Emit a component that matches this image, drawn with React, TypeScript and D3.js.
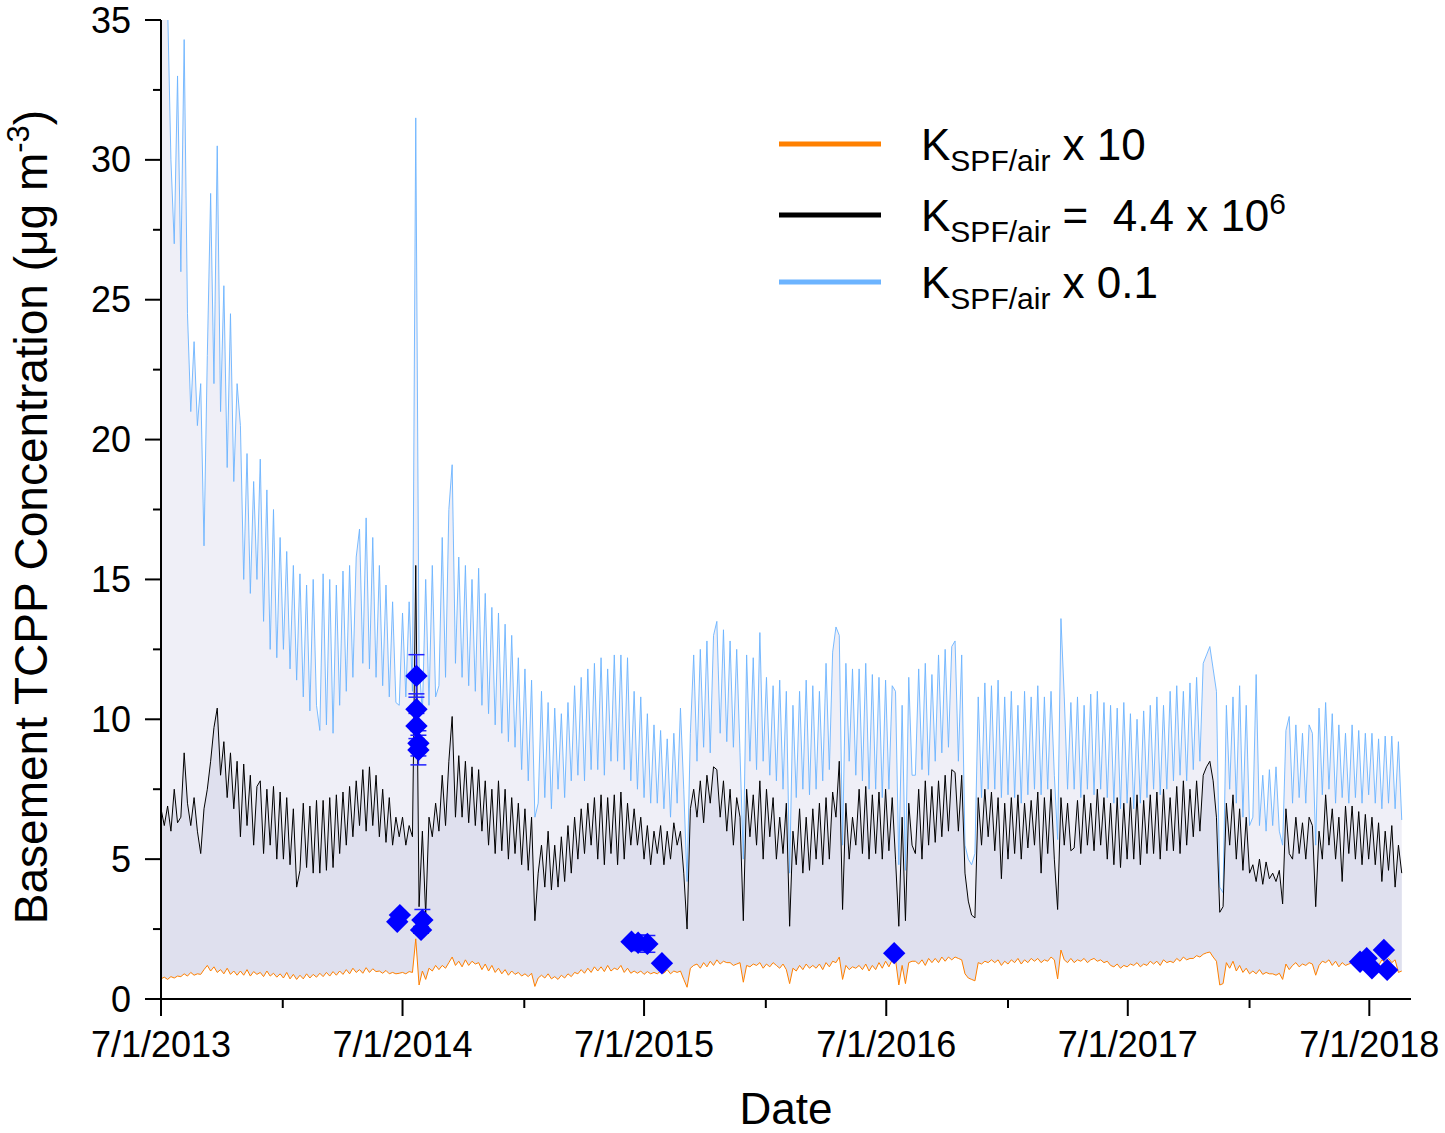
import React from "react";
import * as d3 from "d3";

// daily model output, every 5 days from 7/1/2013
const START = "2013-07-01";
const END = "2018-09-02";
const STEP_DAYS = 5;

// K_SPF/air x 10 (orange)
const kTimes10: number[] = [
  0.72, 0.78, 0.7, 0.8, 0.75, 0.82, 0.8, 0.9, 0.82, 0.95, 0.85, 0.9,
  0.88, 1.05, 1.2, 1.0, 1.15, 0.95, 1.05, 0.9, 1.1, 0.88, 1.0, 0.85,
  1.0, 0.85, 1.05, 0.82, 0.98, 0.88, 0.95, 0.8, 1.0, 0.82, 0.92, 0.78,
  0.9, 0.75, 0.95, 0.72, 0.88, 0.7, 0.85, 0.72, 0.9, 0.75, 0.88, 0.78,
  0.92, 0.8, 0.95, 0.82, 0.98, 0.85, 1.0, 0.88, 1.05, 0.9, 1.1, 0.95,
  1.05, 0.92, 1.12, 0.95, 1.08, 0.98, 1.0, 0.92, 1.02, 0.9, 0.95, 0.9,
  0.92, 0.95, 0.9, 0.98, 0.95, 2.15, 0.5, 1.0, 0.7, 1.1, 1.0, 1.2,
  1.05, 1.2, 1.1, 1.3, 1.5, 1.2, 1.35, 1.15, 1.4, 1.2, 1.35, 1.25,
  1.3, 1.05, 1.25, 1.0, 1.2, 0.95, 1.1, 0.9, 1.05, 0.85, 1.0, 0.88,
  0.95, 0.82, 0.9, 0.8, 0.92, 0.45, 0.75, 0.85, 0.75, 0.9, 0.72, 0.8,
  0.7, 0.85, 0.75, 0.9, 0.8, 0.95, 0.9, 1.05, 0.92, 1.1, 0.95, 1.15,
  1.0, 1.15, 0.98, 1.2, 1.0, 1.1, 1.05, 1.2, 0.95, 1.1, 0.92, 1.0,
  0.92, 1.0, 0.88, 0.98, 0.9, 0.95, 0.9, 1.0, 0.92, 1.05, 0.9, 1.0,
  0.95, 1.0, 0.7, 0.42, 1.1, 1.2, 1.25, 1.1, 1.3, 1.15, 1.35, 1.2,
  1.4, 1.25, 1.35, 1.3, 1.3, 1.2, 1.25, 1.3, 0.6, 1.2, 1.15, 1.25,
  1.2, 1.3, 1.1, 1.25, 1.15, 1.3, 1.2, 1.1, 1.25, 1.05, 0.55, 1.1,
  1.0, 1.2, 1.05, 1.25, 1.1, 1.2, 1.1, 1.25, 1.05, 1.3, 1.15, 1.35,
  1.3, 1.5, 0.7, 1.2, 1.05, 1.15, 1.1, 1.2, 1.05, 1.25, 1.0, 1.2,
  1.05, 1.3, 1.1, 1.35, 1.15, 1.4, 1.4, 0.5, 1.2, 0.55, 1.3, 1.35,
  1.35, 1.25, 1.4, 1.2, 1.45, 1.3, 1.45, 1.3, 1.5, 1.35, 1.5, 1.4,
  1.5, 1.45, 1.4, 0.9, 0.75, 0.7, 0.65, 1.3, 1.25, 1.35, 1.3, 1.4,
  1.3, 1.4, 1.2, 1.35, 1.25, 1.4, 1.3, 1.45, 1.25, 1.4, 1.3, 1.45,
  1.35, 1.45, 1.3, 1.4, 1.35, 1.5, 1.4, 0.72, 1.75, 1.4, 1.3, 1.45,
  1.3, 1.4, 1.35, 1.45, 1.3, 1.4, 1.45, 1.35, 1.4, 1.3, 1.35, 1.2,
  1.15, 1.25, 1.1, 1.2, 1.15, 1.25, 1.2, 1.3, 1.15, 1.25, 1.2, 1.35,
  1.25, 1.35, 1.2, 1.4, 1.3, 1.35, 1.3, 1.45, 1.35, 1.5, 1.4, 1.45,
  1.45, 1.55, 1.5, 1.6, 1.65, 1.68, 1.5, 1.35, 0.5, 0.55, 1.3, 1.1,
  1.35, 1.0, 1.2, 0.95, 1.1, 0.9, 1.0, 0.9, 1.05, 0.88, 0.95, 0.9,
  0.9, 0.85, 0.92, 0.7, 1.25, 1.05, 1.2, 1.3, 1.15, 1.25, 1.2, 1.3,
  1.25, 0.85, 1.2, 1.35, 1.3, 1.4, 1.2, 1.35, 1.15, 1.3, 1.2, 1.25,
  1.3, 1.4, 1.25, 1.35, 1.2, 1.3, 1.25, 1.35, 1.2, 1.4, 1.3, 1.45,
  1.3, 1.4, 0.95, 1.0,
];

// K_SPF/air = 4.4 x 10^6 (black)
const kBase: number[] = [
  6.8, 6.2, 6.9, 6.0, 7.5, 6.3, 6.5, 8.8, 7.0, 6.2, 7.2, 6.0,
  5.2, 6.8, 7.5, 8.5, 9.7, 10.4, 8.0, 9.2, 7.2, 8.8, 6.8, 8.5,
  5.8, 8.4, 6.2, 8.0, 5.5, 7.6, 7.8, 5.2, 7.5, 5.5, 7.6, 5.0,
  7.4, 5.0, 7.2, 4.8, 6.8, 4.0, 4.6, 7.0, 4.7, 6.9, 4.5, 7.1,
  4.5, 7.1, 4.6, 7.2, 4.7, 7.3, 5.2, 7.4, 5.5, 7.6, 5.8, 7.8,
  6.2, 8.2, 6.0, 8.3, 6.2, 8.0, 5.8, 7.5, 5.6, 7.2, 5.5, 6.5,
  5.8, 6.5, 5.5, 6.2, 5.8, 15.5, 3.3, 6.0, 3.0, 6.5, 5.8, 7.0,
  6.0, 8.0, 6.2, 8.5, 10.1, 6.5, 8.7, 6.5, 8.5, 6.3, 8.3, 6.2,
  8.2, 6.0, 7.8, 5.5, 7.5, 5.2, 7.8, 5.3, 7.5, 5.0, 7.2, 5.2,
  7.0, 4.8, 6.8, 4.6, 6.5, 2.8, 4.5, 5.5, 4.0, 6.0, 3.9, 5.5,
  4.0, 5.8, 4.2, 6.2, 4.5, 6.5, 5.0, 6.8, 5.2, 7.0, 5.5, 7.2,
  5.0, 7.3, 4.8, 7.2, 5.2, 7.3, 4.8, 7.4, 5.0, 7.0, 5.5, 6.8,
  5.5, 6.5, 5.0, 6.2, 4.8, 6.0, 5.2, 6.2, 4.8, 6.0, 5.0, 6.3,
  5.5, 6.0, 4.5, 2.5, 6.8, 7.5, 6.5, 7.8, 6.3, 8.0, 7.0, 8.3,
  8.2, 6.5, 7.8, 6.0, 7.5, 5.5, 7.2, 6.5, 2.8, 7.5, 5.8, 7.3,
  5.5, 7.8, 5.0, 7.5, 5.8, 7.2, 5.0, 6.5, 5.2, 7.0, 2.6, 6.0,
  4.8, 6.8, 4.5, 6.5, 4.6, 6.8, 5.0, 7.0, 4.8, 7.2, 5.0, 7.4,
  6.5, 8.5, 3.2, 7.0, 5.0, 6.5, 5.5, 7.5, 5.2, 7.6, 5.0, 7.3,
  5.2, 7.4, 5.0, 7.5, 5.3, 7.2, 5.0, 2.6, 6.5, 2.8, 7.0, 5.5,
  5.2, 7.5, 5.0, 7.8, 5.5, 7.6, 5.6, 7.8, 5.8, 8.0, 6.0, 8.2,
  8.1, 6.0, 8.0, 4.5, 3.5, 3.0, 2.9, 7.2, 5.5, 7.5, 5.8, 7.4,
  5.3, 7.2, 4.3, 7.0, 5.0, 7.2, 5.2, 7.3, 5.0, 7.0, 5.4, 7.1,
  5.5, 7.4, 4.5, 7.2, 5.2, 7.5, 5.0, 3.2, 7.2, 5.5, 7.0, 5.3,
  5.4, 7.1, 5.2, 7.3, 5.5, 7.0, 5.3, 7.5, 5.5, 7.2, 5.0, 7.0,
  4.8, 7.2, 4.7, 7.0, 5.0, 7.2, 5.0, 7.3, 4.8, 7.1, 5.2, 7.3,
  5.2, 7.4, 5.0, 7.5, 5.3, 7.2, 5.3, 7.6, 5.2, 7.8, 5.5, 7.5,
  5.8, 7.8, 6.0, 8.0, 8.3, 8.5, 7.8, 6.5, 3.1, 3.3, 7.0, 5.5,
  7.3, 5.0, 6.8, 4.6, 6.5, 4.5, 4.8, 4.2, 5.0, 4.1, 4.9, 4.3,
  4.5, 4.2, 4.6, 3.4, 6.8, 5.2, 5.0, 6.5, 5.2, 6.3, 5.0, 6.5,
  6.2, 3.3, 6.0, 5.0, 7.3, 5.5, 6.8, 5.0, 6.5, 4.2, 6.9, 5.2,
  6.9, 5.0, 6.7, 4.8, 6.6, 5.0, 6.5, 4.8, 6.3, 4.2, 6.0, 4.6,
  6.2, 4.0, 5.5, 4.5,
];

// K_SPF/air x 0.1 (light blue)
const kTimes01: number[] = [
  36, 36, 35.5, 30, 27, 33, 26, 34.3, 24.5, 21, 23.5, 20.5,
  22, 16.2, 23, 28.8, 22, 30.5, 21, 25.5, 19, 24.5, 18.5, 22,
  20.5, 15, 19.5, 14.5, 18.5, 15, 19.3, 13.5, 18.2, 12.5, 17.5, 12.2,
  16.5, 12.5, 16, 11.8, 15.5, 11.4, 15.2, 10.8, 14.8, 10.3, 15, 10.5,
  9.6, 15.2, 9.8, 15, 9.5, 14.8, 10.5, 15.3, 11, 15.5, 11.5, 15.8,
  16.8, 12, 17.2, 11.8, 16.5, 11.5, 15.5, 11.2, 14.8, 10.8, 14.2, 10.6,
  10.5, 13.8, 10.8, 14.2, 11, 31.5, 12, 10.2, 15, 10.5, 15.5, 10.8,
  11.2, 16.5, 11.5, 17.5, 19.1, 12, 15.8, 11.5, 15.5, 11.2, 15, 11,
  15.4, 10.5, 14.5, 10.2, 14, 9.8, 13.8, 9.5, 13.4, 9.2, 13, 9.0,
  12.2, 8.2, 11.8, 7.8, 11.4, 6.5, 7, 11, 7.2, 10.6, 6.8, 10.4,
  7.5, 10.2, 7.2, 10.6, 7.8, 11.2, 8, 11.5, 7.8, 11.8, 8.2, 12.0,
  8.2, 12.2, 8, 11.8, 8.5, 12.3, 8.5, 12.3, 8.2, 12.2, 7.8, 11,
  7.5, 10.8, 7.2, 10.2, 7, 9.8, 7, 9.6, 6.8, 9.3, 6.5, 9.5,
  7, 10.4, 7.5, 4.2, 9.5, 12.3, 8.5, 12.5, 9, 12.8, 8.8, 13,
  13.5, 9.5, 13.2, 9.2, 12.8, 9.0, 12.5, 8.8, 5, 12.3, 8.5, 12.2,
  8.2, 13.1, 8.5, 11.5, 8, 11.2, 7.8, 11.4, 7.5, 11, 4.5, 10.5,
  7.2, 11, 7.5, 11.4, 7.3, 11.2, 7.5, 11, 7.8, 12, 8.2, 12.4,
  13.3, 13, 5.5, 12, 8.5, 11.8, 8, 11.8, 7.8, 12, 7.5, 11.6,
  7.5, 11.5, 7.2, 11.4, 7.5, 11.2, 11, 4.8, 10.5, 4.6, 11.5, 8,
  8, 11.8, 8.2, 12, 8, 11.6, 8.5, 12.3, 8.8, 12.5, 9, 12.6,
  12.8, 8.5, 12.3, 5.5, 5.0, 4.8, 5.2, 10.8, 7.2, 11.3, 7.5, 11.2,
  7.5, 11.4, 7.2, 10.8, 7.3, 11, 7.2, 10.5, 7, 11, 7.3, 10.8,
  7.5, 11.2, 7.3, 10.8, 7.5, 11, 8, 5.7, 13.6, 10.8, 7.5, 10.6,
  7.5, 10.8, 7.2, 10.5, 7.5, 10.9, 7.3, 11, 7.5, 10.6, 7.2, 10.5,
  7, 10.4, 6.8, 10.6, 7, 10.2, 6.8, 10, 7, 10.3, 7.2, 10.5,
  7.5, 10.8, 7.3, 10.5, 7.5, 11, 7.8, 11.2, 8, 11, 7.8, 11.3,
  8.2, 11.5, 8.5, 12, 12.3, 12.6, 11.8, 11, 4, 3.8, 10.5, 7.5,
  10.8, 7, 11.2, 6.5, 10.5, 6.2, 6.5, 11.6, 6.2, 8, 6, 8.2,
  6.2, 8.3, 6, 5.5, 9.6, 10.1, 7, 9.8, 7.2, 9.5, 7, 9.8,
  9.5, 5.5, 10.4, 7.3, 10.6, 7.5, 10.2, 7, 9.8, 7.2, 9.5, 7,
  9.8, 7.2, 9.6, 7, 9.5, 7.3, 9.5, 7, 9.3, 6.8, 9.4, 7,
  9.4, 6.8, 9.2, 6.4,
];

// measured basement air samples
const sampleDates = [
  "2014-06-23", "2014-06-27", "2014-07-22", "2014-07-22", "2014-07-22",
  "2014-07-25", "2014-07-25", "2014-07-29", "2014-07-31",
  "2015-06-12", "2015-06-22", "2015-07-06", "2015-07-28",
  "2016-07-13",
  "2018-06-17", "2018-06-27", "2018-07-05", "2018-07-23", "2018-07-28",
];
const sampleValues = [
  2.76, 3.0, 11.55, 10.36, 9.76, 9.14, 8.9, 2.47, 2.82,
  2.05, 2.01, 1.97, 1.28, 1.64, 1.33, 1.46, 1.1, 1.75, 1.04,
];
const sampleErrors = [
  0, 0, 0.76, 0.55, 0.45, 0.45, 0.53, 0.12, 0.38,
  0, 0.28, 0.3, 0, 0, 0, 0, 0, 0, 0,
];

const xMajorTicks = ["2013-07-01", "2014-07-01", "2015-07-01", "2016-07-01", "2017-07-01", "2018-07-01"];
const xMinorTicks = ["2014-01-01", "2015-01-01", "2016-01-01", "2017-01-01", "2018-01-01"];
const yMajorTicks = [0, 5, 10, 15, 20, 25, 30, 35];
const yMinorTicks = [2.5, 7.5, 12.5, 17.5, 22.5, 27.5, 32.5];

const FONT = "'Liberation Sans', Arial, Helvetica, sans-serif";

export default function App() {
  const W = 1445;
  const H = 1133;
  const left = 161, right = 1411, top = 20, bottom = 999;

  const parse = d3.utcParse("%Y-%m-%d");
  const fmt = d3.utcFormat("%-m/%-d/%Y");
  const t0 = parse(START) as Date;

  const x = d3.scaleUtc().domain([t0, parse(END) as Date]).range([left, right]);
  const y = d3.scaleLinear().domain([0, 35]).range([bottom, top]);

  const n = Math.min(kTimes10.length, kBase.length, kTimes01.length);
  const rows = d3.range(n).map((i) => ({
    d: d3.utcDay.offset(t0, i * STEP_DAYS),
    lo: kTimes10[i],
    mid: kBase[i],
    hi: kTimes01[i],
  }));
  type Row = (typeof rows)[number];

  const lineOf = (acc: (r: Row) => number) =>
    d3.line<Row>().x((r) => x(r.d)).y((r) => y(acc(r)))(rows) || "";

  const upperBand =
    d3.area<Row>().x((r) => x(r.d)).y0((r) => y(r.lo)).y1((r) => y(r.hi))(rows) || "";
  const lowerBand =
    d3.area<Row>().x((r) => x(r.d)).y0((r) => y(r.lo)).y1((r) => y(r.mid))(rows) || "";

  const diamond = d3.symbol(d3.symbolSquare, 250)() || "";

  const samples = sampleDates.map((s, i) => ({
    d: parse(s) as Date,
    v: sampleValues[i],
    e: sampleErrors[i],
  }));

  const legend = [
    { color: "#ff8000", base: 160, rest: " x 10", sup: "" },
    { color: "#000000", base: 231, rest: " =  4.4 x 10", sup: "6" },
    { color: "#6cb4ff", base: 298, rest: " x 0.1", sup: "" },
  ];

  return (
    <svg
      width={W}
      height={H}
      style={{ position: "absolute", left: 0, top: 0, background: "#fff" }}
      fontFamily={FONT}
    >
      <defs>
        <clipPath id="plot">
          <rect x={left} y={top} width={right - left} height={bottom - top} />
        </clipPath>
      </defs>

      <g clipPath="url(#plot)">
        <path d={upperBand} fill="#efeff7" />
        <path d={lowerBand} fill="#dfe0ee" />
        <path d={lineOf((r) => r.hi)} fill="none" stroke="#6cb4ff" strokeWidth={1} strokeOpacity={0.9} />
        <path d={lineOf((r) => r.mid)} fill="none" stroke="#000" strokeWidth={1} />
        <path d={lineOf((r) => r.lo)} fill="none" stroke="#ff8000" strokeWidth={1} />
      </g>

      {samples.map((s, i) =>
        s.e > 0 ? (
          <g key={"e" + i} stroke="#2020ff" strokeWidth={1.5}>
            <line x1={x(s.d)} x2={x(s.d)} y1={y(s.v - s.e)} y2={y(s.v + s.e)} />
            <line x1={x(s.d) - 8} x2={x(s.d) + 8} y1={y(s.v + s.e)} y2={y(s.v + s.e)} />
            <line x1={x(s.d) - 8} x2={x(s.d) + 8} y1={y(s.v - s.e)} y2={y(s.v - s.e)} />
          </g>
        ) : null
      )}
      {samples.map((s, i) => (
        <path
          key={"p" + i}
          d={diamond}
          fill="#0000ff"
          transform={`translate(${x(s.d)},${y(s.v)}) rotate(45)`}
        />
      ))}

      {/* axes */}
      <g stroke="#000" strokeWidth={2}>
        <line x1={left} x2={left} y1={top} y2={bottom + 1} />
        <line x1={left - 1} x2={right} y1={bottom} y2={bottom} />
        {yMajorTicks.map((v) => (
          <line key={"ym" + v} x1={left - 16} x2={left} y1={y(v)} y2={y(v)} />
        ))}
        {yMinorTicks.map((v) => (
          <line key={"yn" + v} x1={left - 8} x2={left} y1={y(v)} y2={y(v)} />
        ))}
        {xMajorTicks.map((s) => (
          <line key={"xm" + s} x1={x(parse(s) as Date)} x2={x(parse(s) as Date)} y1={bottom} y2={bottom + 17} />
        ))}
        {xMinorTicks.map((s) => (
          <line key={"xn" + s} x1={x(parse(s) as Date)} x2={x(parse(s) as Date)} y1={bottom} y2={bottom + 9} />
        ))}
      </g>

      <g fontSize={36} fill="#000">
        {yMajorTicks.map((v) => (
          <text key={"yl" + v} x={131} y={y(v)} dy="0.35em" textAnchor="end">
            {v}
          </text>
        ))}
        {xMajorTicks.map((s) => (
          <text key={"xl" + s} x={x(parse(s) as Date)} y={1057} textAnchor="middle">
            {fmt(parse(s) as Date)}
          </text>
        ))}
      </g>

      <text x={(left + right) / 2} y={1124} fontSize={44} textAnchor="middle">
        Date
      </text>
      <text transform="translate(47,517) rotate(-90)" fontSize={46} textAnchor="middle">
        Basement TCPP Concentration (μg m
        <tspan fontSize={31} dy={-18}>-3</tspan>
        <tspan dy={18}>)</tspan>
      </text>

      {legend.map((l) => (
        <g key={l.base}>
          <line x1={779} x2={881} y1={l.base - 16} y2={l.base - 16} stroke={l.color} strokeWidth={5} />
          <text x={921} y={l.base} fontSize={44} style={{ whiteSpace: "pre" }}>
            K
            <tspan fontSize={30} dy={11}>SPF/air</tspan>
            <tspan dy={-11}>{l.rest}</tspan>
            {l.sup ? <tspan fontSize={30} dy={-17}>{l.sup}</tspan> : null}
          </text>
        </g>
      ))}
    </svg>
  );
}
